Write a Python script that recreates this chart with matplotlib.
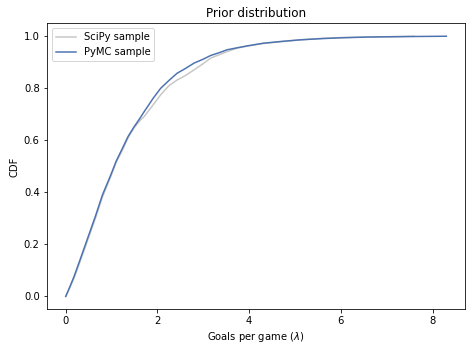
import matplotlib
matplotlib.use("Agg")
import matplotlib.pyplot as plt

# CDF of the prior samples
scipy_x = [0, 0.08, 0.18, 0.3, 0.44, 0.55, 0.65, 0.8, 0.98, 1.1, 1.235, 1.36,
           1.49, 1.63, 1.71, 1.9, 2.07, 2.25, 2.43, 2.6, 2.8, 3.0, 3.16, 3.35,
           3.52, 3.75, 3.96, 4.3, 4.7, 5.1, 5.6, 6.0, 6.6, 7.6]
scipy_cdf = [0, 0.03, 0.07, 0.128, 0.197, 0.252, 0.302, 0.382, 0.46, 0.515,
             0.562, 0.61, 0.648, 0.678, 0.691, 0.735, 0.775, 0.81, 0.832,
             0.848, 0.871, 0.895, 0.916, 0.929, 0.941, 0.955, 0.962, 0.972,
             0.979, 0.986, 0.992, 0.995, 0.997, 1.0]

pymc_x = [0, 0.08, 0.18, 0.3, 0.44, 0.55, 0.65, 0.8, 0.98, 1.1, 1.235, 1.36,
          1.49, 1.6, 1.71, 1.9, 2.07, 2.25, 2.43, 2.6, 2.8, 3.0, 3.16, 3.35,
          3.52, 3.75, 3.96, 4.3, 4.7, 5.1, 5.6, 6.0, 6.6, 7.6, 8.3]
pymc_cdf = [0, 0.033, 0.076, 0.135, 0.205, 0.26, 0.31, 0.39, 0.466, 0.52, 0.569,
            0.615, 0.652, 0.68, 0.71, 0.76, 0.80, 0.83, 0.858, 0.875, 0.897,
            0.912, 0.926, 0.937, 0.948, 0.956, 0.963, 0.973, 0.98, 0.986,
            0.991, 0.994, 0.997, 0.999, 1.0]

fig = plt.figure(figsize=(472 / 72, 352 / 72), dpi=72)
ax = fig.add_subplot(111)
fig.subplots_adjust(left=0.099, right=0.986, top=0.934, bottom=0.121)

ax.plot(scipy_x, scipy_cdf, color="0.78", label="SciPy sample")
ax.plot(pymc_x, pymc_cdf, color="#4c72b0", label="PyMC sample")

ax.set_title("Prior distribution")
ax.set_xlabel(r"Goals per game ($\lambda$)")
ax.set_ylabel("CDF")
ax.legend(loc="upper left")

fig.savefig("out.png", dpi=72)
